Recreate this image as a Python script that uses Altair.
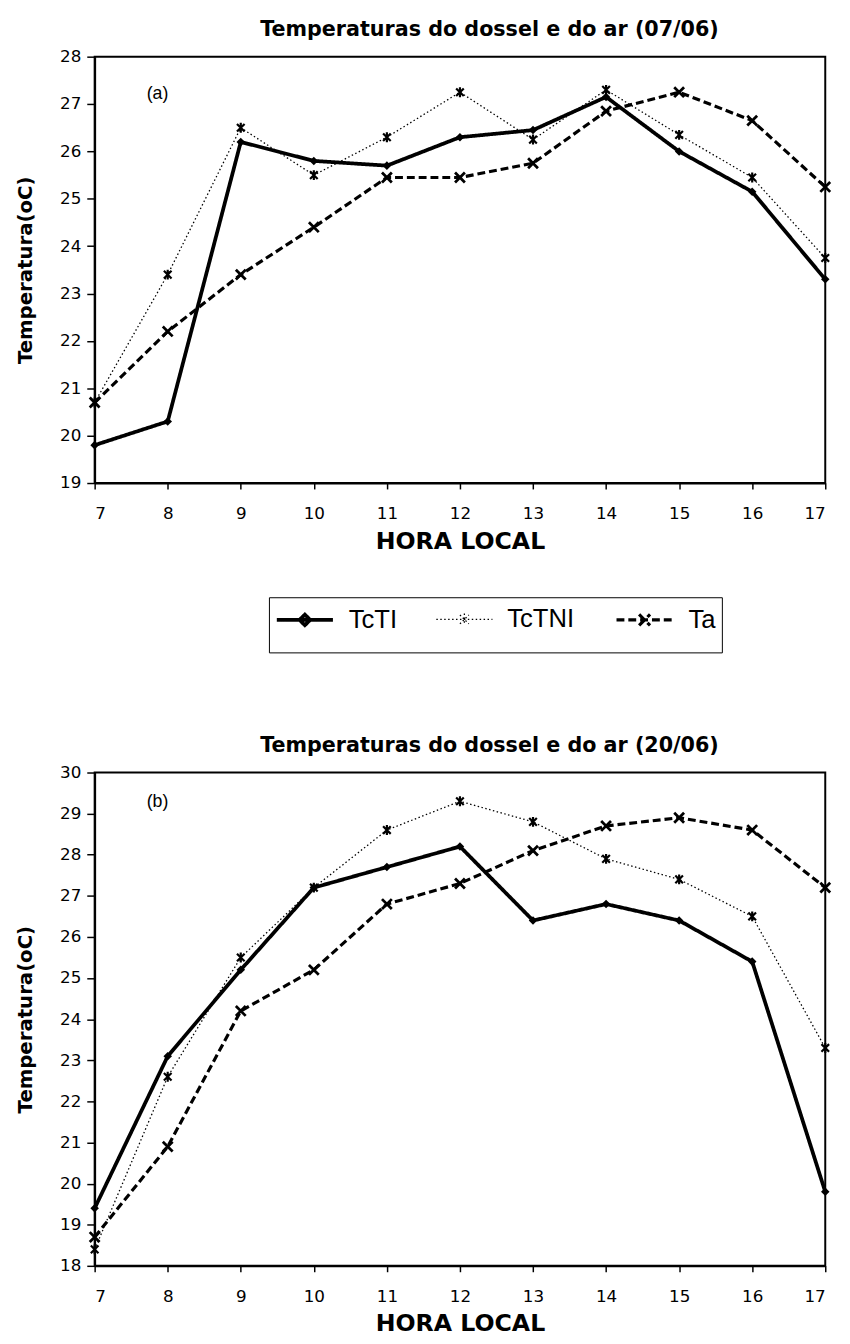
import altair as alt
import pandas as pd

# ---------------- data ----------------
hours = [7, 8, 9, 10, 11, 12, 13, 14, 15, 16, 17]
series_names = ["TcTI", "TcTNI", "Ta"]

# (a) 07/06
a_tcti = [19.8, 20.3, 26.2, 25.8, 25.7, 26.3, 26.45, 27.15, 26.0, 25.15, 23.3]
a_tctni = [20.7, 23.4, 26.5, 25.5, 26.3, 27.25, 26.25, 27.3, 26.35, 25.45, 23.75]
a_ta = [20.7, 22.2, 23.4, 24.4, 25.45, 25.45, 25.75, 26.85, 27.25, 26.65, 25.25]

# (b) 20/06
b_tcti = [19.4, 23.1, 25.2, 27.2, 27.7, 28.2, 26.4, 26.8, 26.4, 25.4, 19.8]
b_tctni = [18.4, 22.6, 25.5, 27.2, 28.6, 29.3, 28.8, 27.9, 27.4, 26.5, 23.3]
b_ta = [18.7, 20.9, 24.2, 25.2, 26.8, 27.3, 28.1, 28.7, 28.9, 28.6, 27.2]

titles = ["Temperaturas do dossel e do ar (07/06)",
          "Temperaturas do dossel e do ar (20/06)"]
panel_tags = ["(a)", "(b)"]
tag_hour = [7.86, 7.86]
tag_temp = [27.21, 29.28]
y_domains = [(19, 28), (18, 30)]
x_title = "HORA LOCAL"
y_title = "Temperatura(oC)"

# ---------------- styles ----------------
DASHES = [[1, 0], [1.5, 2.5], [8, 4]]
WIDTHS = [3.8, 1.3, 3.2]
DIAMOND = "M0,-1L1,0L0,1L-1,0Z"
ASTER = "M-1,-1L1,1M-1,1L1,-1M0,-1.3L0,1.3"
CROSS = "M-1,-1L1,1M-1,1L1,-1"
# legend keys: a line segment with the series marker in its middle
LEGEND_PATHS = [
    "M-1,0H2.8M0.9,-0.36L1.26,0L0.9,0.36L0.54,0Z",
    "M-1,0H2.8M0.6,-0.3L1.2,0.3M0.6,0.3L1.2,-0.3M0.9,-0.4V0.4",
    "M-1,0H2.8M0.53,-0.37L1.27,0.37M0.53,0.37L1.27,-0.37",
]
LEGEND_SPACER = "\u00a0"  # blank legend title: leaves room under the keys


def make_df(tcti, tctni, ta):
    rows = []
    for name, vals in zip(series_names, [tcti, tctni, ta]):
        for h, v in zip(hours, vals):
            rows.append({"hora": h, "temp": v, "serie": name})
    return pd.DataFrame(rows)


def panel(df, ydom, height, title, tag, th, tt, legend):
    x = alt.X("hora:Q", scale=alt.Scale(domain=[7, 17], nice=False, zero=False),
              axis=alt.Axis(values=hours, title=x_title, tickSize=6, labelPadding=17,
                            titlePadding=8, titleFontSize=24, format="d"))
    y = alt.Y("temp:Q", scale=alt.Scale(domain=list(ydom), nice=False, zero=False),
              axis=alt.Axis(values=list(range(ydom[0], ydom[1] + 1)), title=y_title,
                            tickSize=8, labelPadding=6, titlePadding=24, titleFontSize=20,
                            format="d"))
    dash = alt.StrokeDash("serie:N", scale=alt.Scale(type="ordinal", domain=series_names,
                                                     range=DASHES), legend=legend)
    sw = alt.StrokeWidth("serie:N", scale=alt.Scale(type="ordinal", domain=series_names,
                                                    range=WIDTHS), legend=legend)
    base = alt.Chart(df)
    lines = base.mark_line(color="black").encode(x=x, y=y, detail="serie:N",
                                                 strokeDash=dash, strokeWidth=sw)
    p1 = base.transform_filter(alt.datum.serie == "TcTI").mark_point(
        shape=DIAMOND, filled=True, color="black", size=75, opacity=1).encode(x=x, y=y)
    p2 = base.transform_filter(alt.datum.serie == "TcTNI").mark_point(
        shape=ASTER, filled=False, color="black", size=60, strokeWidth=2.2, opacity=1).encode(x=x, y=y)
    p3 = base.transform_filter(alt.datum.serie == "Ta").mark_point(
        shape=CROSS, filled=False, color="black", size=100, strokeWidth=2.8, opacity=1).encode(x=x, y=y)
    layers = [lines, p1, p2, p3]
    if legend is not None:
        leg_layer = base.transform_filter("false").mark_point(
            filled=True, color="black", stroke="black", opacity=1).encode(
            x=x, y=y,
            shape=alt.Shape("serie:N", scale=alt.Scale(domain=series_names, range=LEGEND_PATHS),
                            legend=legend),
            strokeDash=dash, strokeWidth=sw)
        layers.append(leg_layer)
    tag_df = pd.DataFrame({"hora": [th], "temp": [tt], "txt": [tag]})
    tag_layer = alt.Chart(tag_df).mark_text(font="Liberation Sans", fontSize=18,
                                            color="black").encode(
        x="hora:Q", y="temp:Q", text="txt:N")
    layers.append(tag_layer)
    return alt.layer(*layers).properties(
        width=742, height=height,
        title=alt.TitleParams(title, font="DejaVu Sans", fontSize=21, fontWeight="bold",
                              color="black", anchor="middle", dx=30, offset=8))


leg = alt.Legend(orient="none", legendX=177, legendY=549, direction="horizontal",
                 title=LEGEND_SPACER, titleOrient="bottom", titleFont="Liberation Sans",
                 titleFontSize=14, titlePadding=0, titleColor="black",
                 labelFont="Liberation Sans", labelFontSize=26, labelColor="black",
                 labelOffset=41, symbolSize=900, columnPadding=36, padding=6,
                 strokeColor="black", symbolOpacity=1)

top = panel(make_df(a_tcti, a_tctni, a_ta), y_domains[0], 433, titles[0], panel_tags[0],
            tag_hour[0], tag_temp[0], leg)
bottom = panel(make_df(b_tcti, b_tctni, b_ta), y_domains[1], 501, titles[1], panel_tags[1],
               tag_hour[1], tag_temp[1], None)

chart = alt.vconcat(top, bottom, spacing=81).resolve_scale(
    strokeDash="independent", strokeWidth="independent", shape="independent"
).properties(
    padding={"left": 7, "top": 0, "right": 5, "bottom": 0}
).configure_view(
    stroke="black", strokeWidth=2
).configure_axis(
    grid=False, domainColor="black", domainWidth=2, tickColor="black", tickWidth=1.5,
    labelFont="DejaVu Sans", labelFontSize=17, labelColor="black",
    titleFont="DejaVu Sans", titleFontWeight="bold", titleColor="black"
)

chart.save("out.html", embed_options={"renderer": "svg", "actions": False})
